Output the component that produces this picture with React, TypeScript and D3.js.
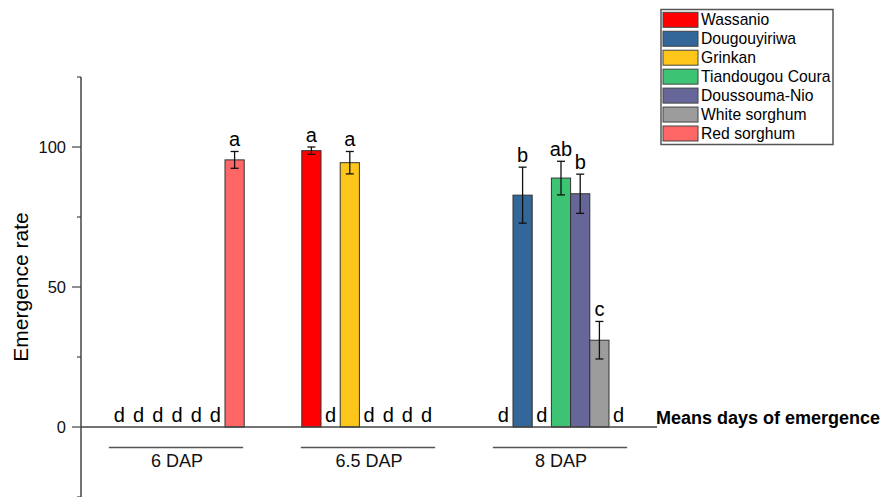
import React from "react";
import * as d3 from "d3";

// Emergence rate by variety and day after planting (DAP)
const groups = ["6 DAP", "6.5 DAP", "8 DAP"];
const varieties = [
  "Wassanio",
  "Dougouyiriwa",
  "Grinkan",
  "Tiandougou Coura",
  "Doussouma-Nio",
  "White sorghum",
  "Red sorghum",
];
const colors = ["#ff0000", "#336699", "#ffc61a", "#3cc474", "#666699", "#9c9c9c", "#ff6666"];

// values[variety][group]
const wassanio = [0, 98.7, 0];
const dougouyiriwa = [0, 0, 82.8];
const grinkan = [0, 94.4, 0];
const tiandougou = [0, 0, 88.9];
const doussouma = [0, 0, 83.3];
const whiteSorghum = [0, 0, 31.0];
const redSorghum = [95.4, 0, 0];
const values = [wassanio, dougouyiriwa, grinkan, tiandougou, doussouma, whiteSorghum, redSorghum];

// standard errors[variety][group]
const wassanioErr = [0, 1.3, 0];
const dougouyiriwaErr = [0, 0, 10];
const grinkanErr = [0, 4, 0];
const tiandougouErr = [0, 0, 6];
const doussoumaErr = [0, 0, 7];
const whiteSorghumErr = [0, 0, 6.7];
const redSorghumErr = [3, 0, 0];
const errors = [wassanioErr, dougouyiriwaErr, grinkanErr, tiandougouErr, doussoumaErr, whiteSorghumErr, redSorghumErr];

// significance letters[group][variety]
const letters6 = ["d", "d", "d", "d", "d", "d", "a"];
const letters65 = ["a", "d", "a", "d", "d", "d", "d"];
const letters8 = ["d", "b", "d", "ab", "b", "c", "d"];
const letters = [letters6, letters65, letters8];

const majorTicks = [0, 50, 100];
const minorTicks = [-25, 25, 75, 125];

export default function App() {
  const W = 893;
  const H = 497;
  const x0 = d3.scaleBand<string>().domain(groups).range([81, 657]).paddingInner(0.3).paddingOuter(0.15);
  const x1 = d3.scaleBand<string>().domain(varieties).range([0, x0.bandwidth()]).padding(0);
  const y = d3.scaleLinear().domain([-25, 125]).range([497, 77]);
  const font = "Arial, 'Liberation Sans', sans-serif";
  const axisColor = "#444";

  return (
    <svg width={W} height={H} style={{ position: "absolute", left: 0, top: 0, background: "#fff" }} fontFamily={font}>
      {/* y axis */}
      <line x1={81} x2={81} y1={y(125)} y2={y(-25)} stroke={axisColor} strokeWidth={1.5} />
      {majorTicks.map((t) => (
        <g key={"M" + t}>
          <line x1={72} x2={81} y1={y(t)} y2={y(t)} stroke={axisColor} strokeWidth={1.2} />
          <text x={66} y={y(t)} dy="0.35em" textAnchor="end" fontSize={16.5} fill="#111">
            {t}
          </text>
        </g>
      ))}
      {minorTicks.map((t) => (
        <line key={"m" + t} x1={77} x2={81} y1={y(t)} y2={y(t)} stroke={axisColor} strokeWidth={1.2} />
      ))}
      <text
        transform={`translate(28,${y(50)}) rotate(-90)`}
        textAnchor="middle"
        fontSize={21}
        fill="#000"
      >
        Emergence rate
      </text>

      {/* bars */}
      {groups.map((g, gi) => (
        <g key={g} transform={`translate(${x0(g)},0)`}>
          {varieties.map((v, vi) => {
            const val = values[vi][gi];
            const err = errors[vi][gi];
            const cx = (x1(v) as number) + x1.bandwidth() / 2;
            const topVal = val + err;
            return (
              <g key={v}>
                {val > 0 && (
                  <rect
                    x={x1(v)}
                    y={y(val)}
                    width={x1.bandwidth()}
                    height={y(0) - y(val)}
                    fill={colors[vi]}
                    stroke="#333"
                    strokeWidth={1}
                  />
                )}
                {err > 0 && (
                  <g stroke="#111" strokeWidth={1.3}>
                    <line x1={cx} x2={cx} y1={y(val + err)} y2={y(val - err)} />
                    <line x1={cx - 4} x2={cx + 4} y1={y(val + err)} y2={y(val + err)} />
                    <line x1={cx - 4} x2={cx + 4} y1={y(val - err)} y2={y(val - err)} />
                  </g>
                )}
                <text x={cx} y={y(topVal) - 5.3} textAnchor="middle" fontSize={20} fill="#000">
                  {letters[gi][vi]}
                </text>
              </g>
            );
          })}
          {/* group bracket */}
          <line x1={-1} x2={x0.bandwidth() - 1} y1={447.5} y2={447.5} stroke="#555" strokeWidth={1.3} />
          <text x={x0.bandwidth() / 2} y={467} textAnchor="middle" fontSize={18} fill="#111">
            {g}
          </text>
        </g>
      ))}

      {/* x baseline */}
      <line x1={81} x2={657} y1={y(0)} y2={y(0)} stroke={axisColor} strokeWidth={1.5} />
      <text x={656} y={424} fontSize={18} fontWeight="bold" fill="#000">
        Means days of emergence
      </text>

      {/* legend */}
      <g transform="translate(661,9.5)">
        <rect x={0} y={0} width={172} height={135} fill="#fff" stroke="#555" strokeWidth={1.5} />
        {varieties.map((v, i) => (
          <g key={v} transform={`translate(0,${2.8 + i * 18.95})`}>
            <rect x={2} y={0} width={35} height={15} fill={colors[i]} stroke="#444" strokeWidth={1} />
            <text x={40} y={7.5} dy="0.35em" fontSize={15.7} fill="#000">
              {v}
            </text>
          </g>
        ))}
      </g>
    </svg>
  );
}
